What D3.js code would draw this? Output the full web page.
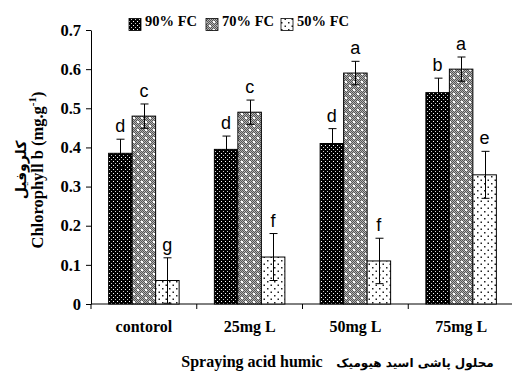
<!DOCTYPE html>
<html>
<head>
<meta charset="utf-8">
<script src="https://cdn.jsdelivr.net/npm/d3@7"></script>
<style>
  body { margin: 0; background: #fff; }
  svg { display: block; }
  .tick text { font-family: "Liberation Serif", "Times New Roman", serif; font-weight: bold; }
</style>
</head>
<body>
<div id="vis"></div>
<script>
// data
const categories = ["contorol", "25mg L", "50mg L", "75mg L"];
const series = ["90% FC", "70% FC", "50% FC"];
const values90 = [0.385, 0.395, 0.41, 0.54];
const values70 = [0.48, 0.49, 0.59, 0.60];
const values50 = [0.06, 0.12, 0.11, 0.33];
const errors90 = [0.036, 0.034, 0.038, 0.037];
const errors70 = [0.031, 0.031, 0.03, 0.031];
const errors50 = [0.058, 0.06, 0.058, 0.06];
const letters90 = ["d", "d", "d", "b"];
const letters70 = ["c", "c", "a", "a"];
const letters50 = ["g", "f", "f", "e"];
const yTicks = [0, 0.1, 0.2, 0.3, 0.4, 0.5, 0.6, 0.7];

const W = 512, H = 373;
const margin = { top: 30, left: 91, bottom: 69 };
const serif = "Liberation Serif, Times New Roman, serif";

const svg = d3.select("#vis").append("svg")
  .attr("width", W).attr("height", H);

// patterns
const defs = svg.append("defs");
const p90 = defs.append("pattern").attr("id", "p90")
  .attr("width", 4).attr("height", 4).attr("patternUnits", "userSpaceOnUse");
p90.append("rect").attr("width", 4).attr("height", 4).attr("fill", "#000");
p90.append("rect").attr("x", 1).attr("y", 1).attr("width", 1).attr("height", 1).attr("fill", "#fff");
p90.append("rect").attr("x", 3).attr("y", 3).attr("width", 1).attr("height", 1).attr("fill", "#ccc");

const chk = defs.append("pattern").attr("id", "chk")
  .attr("width", 2).attr("height", 2).attr("patternUnits", "userSpaceOnUse");
chk.append("rect").attr("width", 2).attr("height", 2).attr("fill", "#b4b4b4");
chk.append("rect").attr("width", 1).attr("height", 1).attr("fill", "#555");
chk.append("rect").attr("x", 1).attr("y", 1).attr("width", 1).attr("height", 1).attr("fill", "#555");

const p70 = defs.append("pattern").attr("id", "p70")
  .attr("width", 8).attr("height", 8).attr("patternUnits", "userSpaceOnUse");
p70.append("rect").attr("width", 8).attr("height", 8).attr("fill", "url(#chk)");
p70.append("rect").attr("x", 1).attr("y", 1).attr("width", 2).attr("height", 2).attr("fill", "#fff");
p70.append("rect").attr("x", 5).attr("y", 5).attr("width", 2).attr("height", 2).attr("fill", "#fff");

const p50 = defs.append("pattern").attr("id", "p50")
  .attr("width", 7).attr("height", 7).attr("patternUnits", "userSpaceOnUse");
p50.append("rect").attr("width", 7).attr("height", 7).attr("fill", "#fff");
p50.append("rect").attr("x", 1).attr("y", 1).attr("width", 1.5).attr("height", 1.5).attr("fill", "#222");
p50.append("rect").attr("x", 4.5).attr("y", 4.5).attr("width", 1.5).attr("height", 1.5).attr("fill", "#222");

const fills = ["url(#p90)", "url(#p70)", "url(#p50)"];

// scales
const x = d3.scaleBand().domain(categories).range([margin.left, 514]).padding(0);
const x1 = d3.scaleBand().domain(series).range([0, x.bandwidth()])
  .paddingInner(0).paddingOuter(0.75);
const y = d3.scaleLinear().domain([0, 0.7]).range([H - margin.bottom, margin.top]);

// y axis
const yAxis = svg.append("g")
  .attr("transform", `translate(${margin.left},0)`)
  .call(d3.axisLeft(y).tickValues(yTicks).tickSize(5).tickSizeOuter(0)
    .tickFormat(d => d === 0 ? "0" : d3.format(".1f")(d)));
yAxis.selectAll("text").attr("font-size", 16.5).attr("fill", "#000").attr("x", -10);
yAxis.select(".domain").attr("stroke", "#000");

// x axis line + boundary ticks
const xg = svg.append("g");
xg.append("line")
  .attr("x1", margin.left).attr("x2", 514)
  .attr("y1", y(0)).attr("y2", y(0)).attr("stroke", "#000");
xg.selectAll(".xt").data(categories).enter().append("line")
  .attr("x1", d => x(d)).attr("x2", d => x(d))
  .attr("y1", y(0)).attr("y2", y(0) + 5).attr("stroke", "#000");
xg.selectAll(".xl").data(categories).enter().append("text")
  .attr("x", d => x(d) + x.bandwidth() / 2)
  .attr("y", 332)
  .attr("text-anchor", "middle")
  .attr("font-family", serif)
  .attr("font-weight", "bold").attr("font-size", 16)
  .text(d => d);

// bars
const allValues = [values90, values70, values50];
const allErrors = [errors90, errors70, errors50];
const allLetters = [letters90, letters70, letters50];

const rows = [];
series.forEach((s, si) => {
  categories.forEach((c, ci) => {
    rows.push({ s, si, c, v: allValues[si][ci], e: allErrors[si][ci], l: allLetters[si][ci] });
  });
});

const bars = svg.append("g");
bars.selectAll("rect").data(rows).enter().append("rect")
  .attr("x", d => x(d.c) + x1(d.s))
  .attr("y", d => y(d.v))
  .attr("width", x1.bandwidth())
  .attr("height", d => y(0) - y(d.v))
  .attr("fill", d => fills[d.si])
  .attr("stroke", "#000").attr("stroke-width", 1);

// error bars
const err = svg.append("g").attr("stroke", "#000").attr("stroke-width", 1);
rows.forEach(d => {
  const cx = Math.round(x(d.c) + x1(d.s) + x1.bandwidth() / 2) + 0.5;
  const lo = Math.max(0, d.v - d.e), hi = d.v + d.e;
  err.append("line").attr("x1", cx).attr("x2", cx).attr("y1", y(lo)).attr("y2", y(hi));
  err.append("line").attr("x1", cx - 4).attr("x2", cx + 4).attr("y1", y(hi)).attr("y2", y(hi));
  err.append("line").attr("x1", cx - 4).attr("x2", cx + 4).attr("y1", y(lo)).attr("y2", y(lo));
});

// letters
svg.append("g").selectAll("text").data(rows).enter().append("text")
  .attr("x", d => x(d.c) + x1(d.s) + x1.bandwidth() / 2)
  .attr("y", d => y(d.v + d.e) - 7)
  .attr("text-anchor", "middle")
  .attr("font-family", "Liberation Sans, Arial, sans-serif")
  .attr("font-size", 18)
  .text(d => d.l);

// legend
const legendX = [129, 206, 281];
const lg = svg.append("g");
series.forEach((s, i) => {
  lg.append("rect").attr("x", legendX[i]).attr("y", 18.5)
    .attr("width", 12).attr("height", 12)
    .attr("fill", fills[i]).attr("stroke", "#000").attr("stroke-width", 0.8);
  lg.append("text").attr("x", legendX[i] + 16).attr("y", 26)
    .attr("font-family", serif)
    .attr("font-weight", "bold").attr("font-size", 14.5)
    .text(s);
});

// y title
svg.append("text")
  .attr("transform", "translate(43,170) rotate(-90)")
  .attr("text-anchor", "middle")
  .attr("font-family", serif)
  .attr("font-weight", "bold").attr("font-size", 16.5)
  .html('Chlorophyll b (mg.g<tspan dy="-7" font-size="11">-1</tspan><tspan dy="7">)</tspan>');
svg.append("text")
  .attr("transform", "translate(26,170) rotate(-90)")
  .attr("text-anchor", "middle")
  .attr("font-family", "DejaVu Sans, sans-serif")
  .attr("font-weight", "bold").attr("font-size", 14)
  .text("کلروفیل");

// x title
svg.append("text")
  .attr("x", 252).attr("y", 367)
  .attr("text-anchor", "middle")
  .attr("font-family", serif)
  .attr("font-weight", "bold").attr("font-size", 16)
  .text("Spraying acid humic");
svg.append("text")
  .attr("x", 415).attr("y", 367)
  .attr("text-anchor", "middle")
  .attr("font-family", "DejaVu Sans, sans-serif")
  .attr("font-weight", "bold").attr("font-size", 12)
  .text("محلول پاشی اسید هیومیک");
</script>
</body>
</html>
